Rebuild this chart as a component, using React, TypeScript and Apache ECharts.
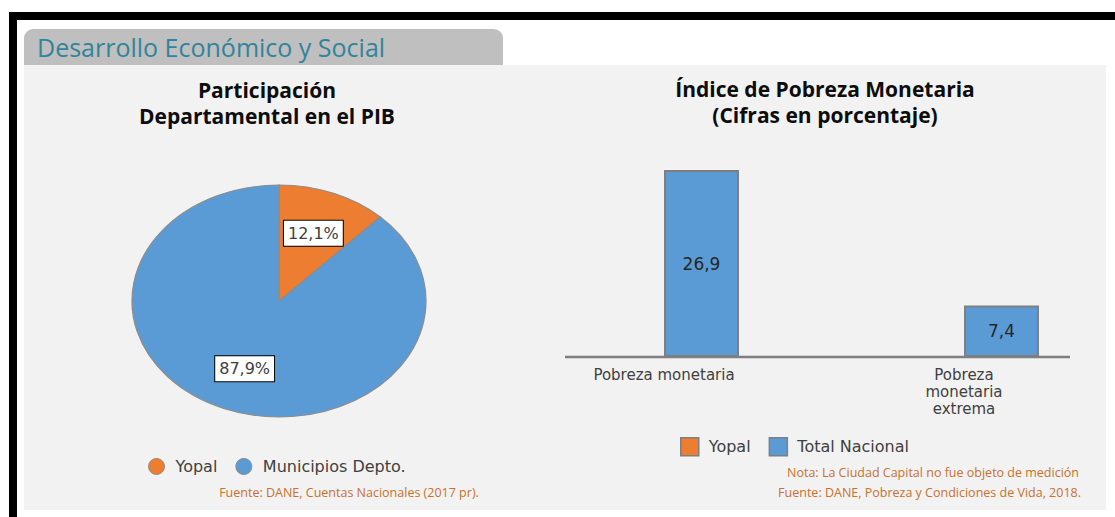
import React, { useEffect, useRef } from "react";
import * as echarts from "echarts";

// ---------- data ----------
const pieNames = ["Yopal", "Municipios Depto."];
const pieValues = [12.1, 87.9];
const pieColors = ["#ed7d31", "#5b9bd5"];

const barCategories = ["Pobreza monetaria", "Pobreza monetaria extrema"];
const barSeriesNames = ["Yopal", "Total Nacional"];
const barYopal: (number | null)[] = [null, null];
const barTotalNacional = [26.9, 7.4];

const tabTitle = "Desarrollo Económico y Social";
const pieTitle = "Participación\nDepartamental en el PIB";
const barTitle = "Índice de Pobreza Monetaria\n(Cifras en porcentaje)";
const pieSource = "Fuente: DANE, Cuentas Nacionales (2017 pr).";
const barNote = "Nota: La Ciudad Capital no fue objeto de medición";
const barSource = "Fuente: DANE, Pobreza y Condiciones de Vida, 2018.";

const fmt = (v: number) => String(v).replace(".", ",");

// ---------- layout ----------
const PIE_CX = 279;
const PIE_CY = 301;
const PIE_RX = 147;
const PIE_RY = 116;
const LABEL_K = 0.63;
const NOTE_COLOR = "#c8712d";
const SANS = "'DejaVu Sans', Verdana, sans-serif";
const TITLE_FONT = "'Open Sans', 'Noto Sans', sans-serif";

const pieTotal = pieValues.reduce((a, b) => a + b, 0);

function pieSeries(i: number) {
  const before = pieValues.slice(0, i).reduce((a, b) => a + b, 0);
  return {
    type: "custom",
    name: pieNames[i],
    coordinateSystem: "none",
    data: [pieValues[i]],
    itemStyle: { color: pieColors[i], borderColor: "#8c8c8c", borderWidth: 1 },
    renderItem: (params: any, api: any) => {
      const v = api.value(0);
      const a0 = -Math.PI / 2 + (before / pieTotal) * Math.PI * 2;
      const a1 = a0 + (v / pieTotal) * Math.PI * 2;
      const mid = (a0 + a1) / 2;
      const lx = PIE_CX + Math.cos(mid) * PIE_RX * LABEL_K;
      const ly = PIE_CY + Math.sin(mid) * PIE_RY * LABEL_K;
      return {
        type: "group",
        children: [
          {
            type: "sector",
            x: PIE_CX,
            y: PIE_CY,
            scaleX: PIE_RX / PIE_RY,
            shape: { cx: 0, cy: 0, r0: 0, r: PIE_RY, startAngle: a0, endAngle: a1, clockwise: true },
            style: { ...api.style(), strokeNoScale: true },
          },
          {
            type: "text",
            x: lx,
            y: ly,
            z2: 10,
            style: {
              text: fmt(v) + "%",
              fill: "#404040",
              fontSize: 16,
              fontFamily: SANS,
              align: "center",
              verticalAlign: "middle",
              backgroundColor: "#ffffff",
              borderColor: "#000000",
              borderWidth: 1,
              padding: [5, 4, 4, 4],
            },
          },
        ],
      };
    },
  };
}

export default function App() {
  const ref = useRef<HTMLDivElement>(null);
  useEffect(() => {
    if (!ref.current) return;
    const chart = echarts.init(ref.current, undefined, { renderer: "svg" });
    chart.setOption({
      animation: false,
      backgroundColor: "#ffffff",
      title: [
        {
          text: pieTitle,
          left: 262,
          top: 72,
          textAlign: "center",
          textStyle: { fontFamily: TITLE_FONT, fontWeight: "bold", fontSize: 21, lineHeight: 26, color: "#0d0d0d" },
        },
        {
          text: barTitle,
          left: 820,
          top: 71,
          textAlign: "center",
          textStyle: { fontFamily: TITLE_FONT, fontWeight: "bold", fontSize: 21, lineHeight: 26, color: "#0d0d0d" },
        },
      ],
      legend: [
        {
          data: pieNames,
          icon: "circle",
          left: 143,
          top: 453,
          itemWidth: 18,
          itemHeight: 16,
          itemGap: 18,
          selectedMode: false,
          itemStyle: { borderColor: "#8c8c8c", borderWidth: 1 },
          textStyle: { fontFamily: SANS, fontSize: 16, color: "#404040", padding: [0, 0, 0, 5] },
        },
        {
          data: barSeriesNames,
          icon: "rect",
          left: 675,
          top: 432,
          itemWidth: 18,
          itemHeight: 18,
          itemGap: 18,
          selectedMode: false,
          itemStyle: { borderColor: "#7f7f7f", borderWidth: 1.5 },
          textStyle: { fontFamily: SANS, fontSize: 16, color: "#404040", padding: [0, 0, 0, 5] },
        },
      ],
      grid: {
        left: 514,
        right: 1,
        top: 148.5,
        bottom: 160,
        containLabel: false,
        outerBoundsMode: "none",
      },
      xAxis: {
        type: "category",
        data: barCategories,
        axisLine: { show: false },
        axisTick: { show: false },
        axisLabel: {
          margin: 9,
          fontFamily: SANS,
          fontSize: 15,
          lineHeight: 17,
          color: "#404040",
          interval: 0,
          formatter: (v: string) => (v.length > 20 ? v.split(" ").join("\n") : v),
        },
        splitLine: { show: false },
      },
      yAxis: { type: "value", min: 0, max: 30, show: false, splitLine: { show: false } },
      series: [
        pieSeries(0),
        pieSeries(1),
        {
          type: "bar",
          name: barSeriesNames[0],
          data: barYopal,
          barWidth: 75,
          barGap: "0%",
          itemStyle: { color: pieColors[0], borderColor: "#7f7f7f", borderWidth: 2 },
        },
        {
          type: "bar",
          name: barSeriesNames[1],
          data: barTotalNacional,
          barWidth: 75,
          barGap: "0%",
          itemStyle: { color: pieColors[1], borderColor: "#7f7f7f", borderWidth: 2 },
          label: {
            show: true,
            position: "inside",
            fontFamily: SANS,
            fontSize: 17,
            color: "#262626",
            formatter: (p: any) => fmt(p.value),
          },
        },
      ],
      graphic: {
        elements: [
          { type: "rect", z: -10, shape: { x: 9, y: 12, width: 1106, height: 8 }, style: { fill: "#000" } },
          { type: "rect", z: -10, shape: { x: 9, y: 12, width: 8, height: 505 }, style: { fill: "#000" } },
          { type: "rect", z: -10, shape: { x: 24, y: 29, width: 479, height: 36, r: [9, 9, 0, 0] }, style: { fill: "#bfbfbf" } },
          { type: "rect", z: -10, shape: { x: 24, y: 65, width: 1082, height: 445 }, style: { fill: "#f2f2f2" } },
          {
            type: "text",
            z: 10,
            x: 37,
            y: 47,
            style: { text: tabTitle, fill: "#31849b", fontSize: 25, fontFamily: TITLE_FONT, verticalAlign: "middle" },
          },
          {
            type: "line",
            z: 5,
            shape: { x1: 565, y1: 357, x2: 1070, y2: 357 },
            style: { stroke: "#7f7f7f", lineWidth: 2.5 },
          },
          {
            type: "text",
            z: 10,
            x: 349,
            y: 492,
            style: { text: pieSource, fill: NOTE_COLOR, fontSize: 12.5, fontFamily: TITLE_FONT, align: "center", verticalAlign: "middle" },
          },
          {
            type: "text",
            z: 10,
            x: 1079,
            y: 472,
            style: { text: barNote, fill: NOTE_COLOR, fontSize: 12.5, fontFamily: TITLE_FONT, align: "right", verticalAlign: "middle" },
          },
          {
            type: "text",
            z: 10,
            x: 1081,
            y: 492,
            style: { text: barSource, fill: NOTE_COLOR, fontSize: 12.5, fontFamily: TITLE_FONT, align: "right", verticalAlign: "middle" },
          },
        ],
      },
    });
    return () => chart.dispose();
  }, []);
  return <div ref={ref} style={{ position: "fixed", left: 0, top: 0, width: 1115, height: 517 }} />;
}
